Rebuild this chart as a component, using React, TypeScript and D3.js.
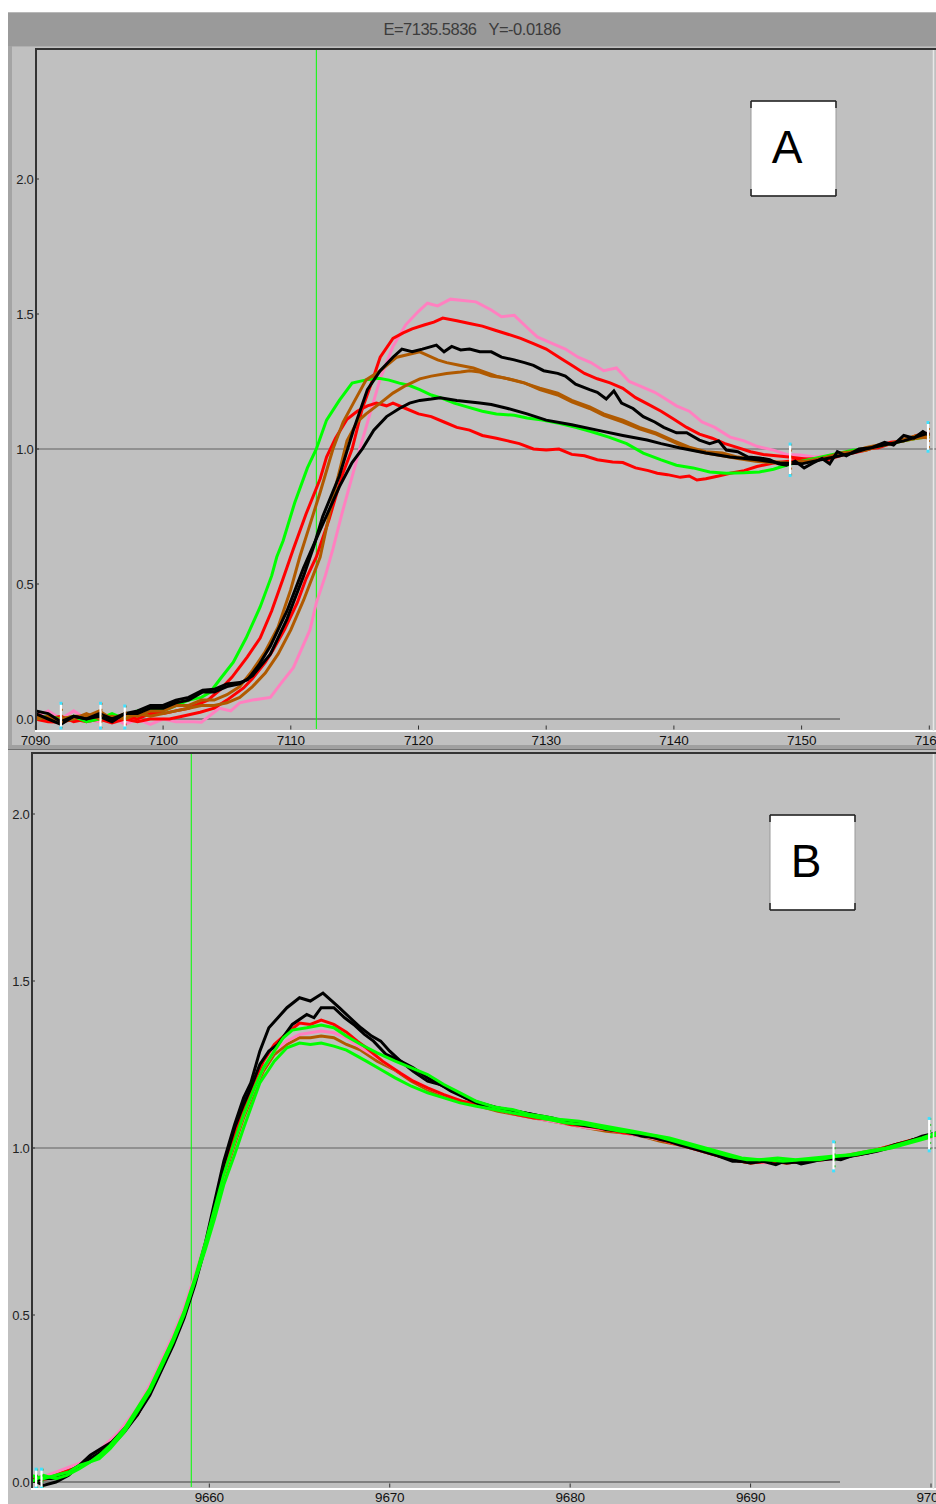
import React from 'react';
import * as d3 from 'd3';

// ---- panel A (Fe-ish edge, eV) ----
const ticksXA = [7090, 7100, 7110, 7120, 7130, 7140, 7150, 7160];
const ticksY = [0, 0.5, 1, 1.5, 2];
const tickLabelsY = ['0.0', '0.5', '1.0', '1.5', '2.0'];
const cursorA = 7112.0;
const titleText = 'E=7135.5836   Y=-0.0186';

const pinkA: [number, number][] = [
  [7090, 0.01], [7091, 0.03], [7092, 0.0], [7093, 0.03], [7094, 0.0], [7095, -0.01], [7096, 0.01], [7097, -0.02],
  [7098, 0.0], [7099, -0.02], [7100, 0.0], [7101, -0.01], [7102.4, -0.01], [7103, -0.012], [7104.4, 0.04], [7105.3, 0.03],
  [7106, 0.06], [7107, 0.07], [7108.4, 0.08], [7109.2, 0.13], [7110.2, 0.19], [7111.5, 0.33], [7112, 0.43], [7112.7, 0.53],
  [7113.3, 0.63], [7114, 0.76], [7114.7, 0.88], [7115.4, 1.0], [7116.2, 1.13], [7117, 1.26], [7118, 1.38], [7119, 1.46],
  [7120, 1.51], [7120.7, 1.54], [7121.5, 1.53], [7122.5, 1.555], [7123.5, 1.55], [7124.5, 1.545], [7125.7, 1.515],
  [7126.5, 1.49], [7127.5, 1.495], [7128.5, 1.45], [7129.3, 1.415], [7130.5, 1.39], [7131.5, 1.37], [7132.5, 1.34],
  [7133.5, 1.32], [7134.5, 1.29], [7135.5, 1.3], [7136.5, 1.25], [7137.5, 1.23], [7138.5, 1.21], [7139.2, 1.19],
  [7140.2, 1.16], [7141.2, 1.14], [7142.2, 1.1], [7143.2, 1.08], [7144.4, 1.044], [7145.5, 1.03], [7146.5, 1.01],
  [7147.8, 0.996], [7148.8, 0.98], [7149.9, 0.978], [7151, 0.97], [7152, 0.975], [7153, 0.98], [7154, 0.99],
  [7155, 1.0], [7156, 1.01], [7157, 1.02], [7158, 1.035], [7159, 1.045], [7160, 1.055],
];

const redHighA: [number, number][] = [
  [7090, 0.0], [7091, -0.01], [7092, -0.012], [7093, 0.0], [7094, -0.01], [7095, 0.0], [7096, -0.015], [7097, 0.0],
  [7098, -0.01], [7099, 0.0], [7100.5, 0.0], [7101.5, 0.01], [7102.9, 0.025], [7104, 0.04], [7105, 0.07], [7106.3, 0.115],
  [7107, 0.15], [7108, 0.21], [7108.6, 0.255], [7109.5, 0.33], [7110.5, 0.43], [7111.2, 0.52], [7112, 0.6], [7113, 0.74],
  [7114, 0.9], [7114.8, 1.0], [7115.6, 1.15], [7116.4, 1.256], [7117, 1.34], [7118, 1.41], [7118.8, 1.43], [7119.5, 1.445],
  [7120.5, 1.46], [7121.2, 1.47], [7121.9, 1.485], [7123, 1.475], [7124, 1.465], [7125, 1.455], [7126, 1.44],
  [7127, 1.425], [7128, 1.41], [7129, 1.39], [7130, 1.37], [7131, 1.34], [7132, 1.31], [7133, 1.28], [7134, 1.26],
  [7135, 1.245], [7136, 1.225], [7137, 1.19], [7138, 1.165], [7139, 1.14], [7140, 1.11], [7141, 1.08], [7142, 1.055],
  [7143, 1.04], [7144, 1.02], [7145, 1.005], [7146, 0.99], [7147, 0.98], [7148, 0.975], [7149, 0.97], [7150, 0.965],
  [7151, 0.96], [7152, 0.97], [7153, 0.98], [7154, 0.985], [7155, 0.995], [7156, 1.01], [7157, 1.025], [7158, 1.03],
  [7159, 1.05], [7160, 1.06],
];

const redLowA: [number, number][] = [
  [7090, 0.02], [7091, 0.0], [7092, 0.01], [7093, -0.01], [7094, 0.0], [7095, 0.01], [7096, 0.0], [7097, 0.01],
  [7098, 0.0], [7099, 0.02], [7100, 0.02], [7101, 0.03], [7102, 0.04], [7103.5, 0.07], [7104.5, 0.11], [7105.4, 0.155],
  [7106.6, 0.23], [7107.6, 0.3], [7108.5, 0.4], [7109.4, 0.52], [7110.2, 0.63], [7111.2, 0.76], [7112.3, 0.89],
  [7112.8, 0.97], [7113.5, 1.04], [7114.4, 1.11], [7115.2, 1.14], [7116, 1.16], [7116.7, 1.17], [7117.5, 1.16],
  [7118, 1.17], [7119, 1.15], [7120, 1.13], [7121, 1.12], [7122, 1.1], [7123, 1.08], [7124, 1.07], [7125, 1.05],
  [7126.1, 1.04], [7127, 1.03], [7127.9, 1.02], [7129, 1.0], [7130, 0.996], [7131, 1.0], [7132, 0.98], [7133, 0.975],
  [7134, 0.96], [7135.2, 0.952], [7136, 0.95], [7137, 0.93], [7138, 0.92], [7138.7, 0.91], [7139.5, 0.905],
  [7140.5, 0.895], [7141.2, 0.9], [7141.8, 0.885], [7142.5, 0.89], [7143.5, 0.9], [7144.4, 0.91], [7145.5, 0.92],
  [7146.5, 0.935], [7147.8, 0.948], [7149, 0.955], [7150, 0.96], [7151, 0.965], [7152, 0.96], [7153, 0.975],
  [7154, 0.99], [7155, 1.0], [7156, 1.005], [7157, 1.02], [7158, 1.035], [7159, 1.04], [7160, 1.055],
];

const blackHighA: [number, number][] = [
  [7090, 0.02], [7091, 0.0], [7092, -0.02], [7093, 0.01], [7094, 0.0], [7095, 0.01], [7096, -0.01], [7097, 0.02],
  [7098, 0.02], [7099, 0.04], [7100, 0.04], [7101, 0.06], [7102, 0.07], [7103.1, 0.1], [7104, 0.1], [7105, 0.12],
  [7106, 0.13], [7107, 0.16], [7108.4, 0.24], [7109.7, 0.37], [7111, 0.53], [7111.8, 0.64], [7112.5, 0.75],
  [7113.8, 0.9], [7114.9, 1.07], [7116, 1.22], [7117, 1.29], [7118, 1.34], [7118.7, 1.37], [7119.5, 1.36],
  [7120.3, 1.37], [7121.4, 1.385], [7122, 1.36], [7122.6, 1.38], [7123.3, 1.367], [7124, 1.37], [7124.8, 1.36],
  [7125.7, 1.36], [7126.5, 1.34], [7127.5, 1.33], [7128.3, 1.32], [7129, 1.31], [7129.8, 1.29], [7130.9, 1.28],
  [7131.5, 1.27], [7132.3, 1.24], [7133.4, 1.22], [7134, 1.21], [7134.7, 1.185], [7135.3, 1.215], [7135.9, 1.17],
  [7136.8, 1.15], [7137.6, 1.12], [7138.5, 1.1], [7139.2, 1.08], [7140.2, 1.06], [7141, 1.06], [7142, 1.033],
  [7142.8, 1.02], [7143.5, 1.03], [7144.1, 0.996], [7145, 0.99], [7145.8, 0.97], [7146.7, 0.967], [7147.5, 0.96],
  [7148.2, 0.945], [7148.8, 0.94], [7149.5, 0.955], [7150.2, 0.93], [7150.9, 0.948], [7151.6, 0.965], [7152.2, 0.945],
  [7152.8, 0.99], [7153.5, 0.975], [7154.5, 1.0], [7155.5, 1.005], [7156.5, 1.025], [7157.2, 1.015], [7158, 1.05],
  [7158.8, 1.04], [7159.5, 1.065], [7160, 1.05],
];

const blackLowA: [number, number][] = [
  [7090, 0.03], [7091, 0.02], [7092, -0.01], [7093, 0.01], [7094, 0.0], [7095, 0.02], [7096, 0.0], [7097, 0.02],
  [7098, 0.03], [7099, 0.05], [7100, 0.05], [7101, 0.07], [7102, 0.08], [7103.1, 0.107], [7104, 0.11], [7105, 0.13],
  [7106, 0.135], [7106.6, 0.145], [7107.5, 0.2], [7108.4, 0.27], [7109.7, 0.4], [7111, 0.56], [7112.3, 0.7],
  [7113.8, 0.86], [7114.8, 0.95], [7115.6, 1.0], [7116.5, 1.07], [7117.5, 1.12], [7118.5, 1.15], [7119.3, 1.17],
  [7120.1, 1.18], [7121, 1.185], [7121.7, 1.19], [7123, 1.18], [7124.8, 1.17], [7125.7, 1.165], [7127, 1.15],
  [7128.5, 1.13], [7130, 1.107], [7132, 1.09], [7134, 1.07], [7136, 1.05], [7137.9, 1.033], [7139, 1.02],
  [7140.5, 1.004], [7142.5, 0.985], [7144.4, 0.97], [7146.5, 0.96], [7148.3, 0.948], [7150, 0.945], [7151, 0.955],
  [7152, 0.965], [7153, 0.975], [7154, 0.985], [7155, 1.0], [7156, 1.01], [7157, 1.02], [7158, 1.03], [7159, 1.045],
  [7160, 1.06],
];

const brownHighA: [number, number][] = [
  [7090, 0.01], [7091, 0.0], [7092, 0.0], [7093, 0.01], [7094, 0.01], [7095, 0.03], [7096, 0.0], [7097, 0.02],
  [7098, 0.01], [7099, 0.03], [7100, 0.03], [7101, 0.05], [7102, 0.05], [7103, 0.07], [7104, 0.07], [7105, 0.09],
  [7106, 0.12], [7107, 0.18], [7108, 0.25], [7109, 0.34], [7110, 0.48], [7110.7, 0.6], [7111.5, 0.72], [7112.3, 0.84],
  [7113.3, 1.0], [7114.1, 1.1], [7114.9, 1.17], [7115.9, 1.256], [7117, 1.29], [7118.3, 1.34], [7119.2, 1.35],
  [7120.1, 1.36], [7120.8, 1.345], [7121.5, 1.33], [7122.2, 1.32], [7123.2, 1.31], [7124.3, 1.3], [7125.2, 1.285],
  [7126.1, 1.27], [7127, 1.26], [7128.3, 1.244], [7129.5, 1.225], [7130.9, 1.207], [7132, 1.18], [7133.4, 1.156],
  [7134.5, 1.13], [7136, 1.107], [7137.3, 1.08], [7138.6, 1.06], [7140, 1.03], [7141.2, 1.007], [7142.5, 0.99],
  [7143.8, 0.985], [7145, 0.97], [7146.4, 0.96], [7147.5, 0.955], [7149, 0.948], [7150, 0.95], [7151, 0.96],
  [7152, 0.97], [7153, 0.98], [7154, 0.99], [7155, 0.995], [7156, 1.01], [7157, 1.02], [7158, 1.03], [7159, 1.04],
  [7160, 1.045],
];

const brownLowA: [number, number][] = [
  [7090, 0.0], [7091, 0.01], [7092, -0.01], [7093, 0.0], [7094, 0.02], [7095, 0.0], [7096, 0.01], [7097, 0.0],
  [7098, 0.02], [7099, 0.01], [7100, 0.02], [7101, 0.03], [7102, 0.04], [7103, 0.05], [7104, 0.05], [7105, 0.06],
  [7106, 0.08], [7107, 0.12], [7108, 0.17], [7109, 0.24], [7110, 0.33], [7111, 0.44], [7112.3, 0.6], [7113.3, 0.82],
  [7114.4, 1.03], [7115.2, 1.1], [7115.9, 1.13], [7117, 1.17], [7118, 1.207], [7119, 1.235], [7120.1, 1.26],
  [7121, 1.27], [7122.2, 1.28], [7123.3, 1.285], [7124, 1.29], [7124.8, 1.285], [7125.7, 1.27], [7126.5, 1.265],
  [7127.5, 1.255], [7128.3, 1.245], [7129.5, 1.22], [7130.9, 1.2], [7132, 1.175], [7133.4, 1.15], [7134.5, 1.125],
  [7136, 1.1], [7137.3, 1.075], [7138.6, 1.055], [7140, 1.025], [7141.2, 1.0], [7142.5, 0.985], [7143.8, 0.975],
  [7145, 0.965], [7146.4, 0.955], [7147.5, 0.95], [7149, 0.945], [7150, 0.955], [7151, 0.955], [7152, 0.97],
  [7153, 0.985], [7154, 0.99], [7155, 1.005], [7156, 1.015], [7157, 1.02], [7158, 1.035], [7159, 1.05], [7160, 1.04],
];

const greenA: [number, number][] = [
  [7090, 0.0], [7091, 0.01], [7092, 0.0], [7093, 0.01], [7094, -0.01], [7095, 0.0], [7096, 0.02], [7097, 0.0],
  [7098, 0.03], [7099, 0.04], [7100, 0.03], [7101, 0.05], [7102, 0.07], [7103, 0.08], [7103.7, 0.1], [7104.5, 0.15],
  [7105.5, 0.21], [7106.5, 0.3], [7107.6, 0.415], [7108.5, 0.53], [7108.9, 0.6], [7109.4, 0.66], [7110.3, 0.8],
  [7111.3, 0.93], [7112, 1.0], [7112.8, 1.107], [7113.8, 1.18], [7114.8, 1.244], [7115.9, 1.256], [7116.9, 1.262],
  [7117.7, 1.255], [7118.5, 1.244], [7119.3, 1.235], [7120.1, 1.22], [7121, 1.2], [7121.7, 1.19], [7122.8, 1.17],
  [7123.8, 1.156], [7125, 1.14], [7126.1, 1.13], [7127.5, 1.125], [7128.5, 1.115], [7129.7, 1.107], [7131, 1.095],
  [7132.3, 1.08], [7133.5, 1.065], [7134.9, 1.044], [7136.3, 1.02], [7137.6, 0.985], [7139, 0.96], [7140.2, 0.94],
  [7141.5, 0.93], [7142.8, 0.915], [7144.1, 0.91], [7145.5, 0.912], [7146.7, 0.915], [7147.8, 0.925], [7148.8, 0.94],
  [7150, 0.955], [7151, 0.965], [7152, 0.975], [7153, 0.985], [7154, 0.995], [7155, 1.0], [7156, 1.01], [7157, 1.02],
  [7158, 1.03], [7159, 1.04], [7160, 1.045],
];

// normalisation markers [E, yLow, yHigh]
const markersA: [number, number, number][] = [
  [7092.0, -0.035, 0.06], [7095.1, -0.035, 0.06], [7097.0, -0.035, 0.05], [7149.1, 0.9, 1.02], [7159.9, 0.99, 1.1],
];

// ---- panel B ----
const ticksXB = [9660, 9670, 9680, 9690, 9700];
const cursorB = 9659.0;

const blackHighB: [number, number][] = [
  [9650.1, 0.01], [9650.8, -0.01], [9651.5, 0.0], [9652.2, 0.02], [9652.8, 0.05], [9653.4, 0.08], [9654, 0.1],
  [9654.6, 0.12], [9655.3, 0.16], [9656, 0.2], [9656.7, 0.27], [9657.4, 0.35], [9658, 0.42], [9658.6, 0.5],
  [9659.2, 0.6], [9659.8, 0.72], [9660.3, 0.84], [9660.8, 0.96], [9661.4, 1.07], [9661.9, 1.15], [9662.3, 1.195],
  [9662.8, 1.29], [9663.3, 1.36], [9663.8, 1.39], [9664.3, 1.42], [9665, 1.45], [9665.6, 1.44], [9666.3, 1.464],
  [9666.8, 1.44], [9667.2, 1.42], [9667.8, 1.39], [9668.4, 1.36], [9669, 1.335], [9669.5, 1.32], [9670, 1.29],
  [9670.6, 1.26], [9671.3, 1.24], [9672.1, 1.21], [9672.8, 1.19], [9673.4, 1.175], [9674.2, 1.15], [9675, 1.13],
  [9676, 1.12], [9677, 1.11], [9678, 1.1], [9679, 1.09], [9680, 1.075], [9681, 1.065], [9682, 1.06], [9683, 1.05],
  [9684, 1.04], [9685, 1.025], [9686, 1.015], [9687, 1.0], [9688, 0.98], [9689, 0.965], [9690, 0.955], [9690.7, 0.96],
  [9691.4, 0.95], [9692.1, 0.965], [9692.8, 0.952], [9693.5, 0.96], [9694.2, 0.97], [9695, 0.965], [9695.8, 0.98],
  [9696.5, 0.985], [9697.2, 0.995], [9698, 1.01], [9698.8, 1.02], [9699.5, 1.035], [9700.3, 1.045],
];

const blackLowB: [number, number][] = [
  [9650.1, 0.0], [9650.8, 0.01], [9651.5, 0.01], [9652.2, 0.03], [9652.8, 0.05], [9653.4, 0.07], [9654, 0.09],
  [9654.6, 0.11], [9655.3, 0.15], [9656, 0.2], [9656.7, 0.26], [9657.4, 0.34], [9658, 0.41], [9658.6, 0.49],
  [9659.2, 0.59], [9659.8, 0.71], [9660.3, 0.83], [9660.8, 0.95], [9661.4, 1.06], [9661.9, 1.13], [9662.3, 1.18],
  [9662.8, 1.25], [9663.3, 1.29], [9663.8, 1.31], [9664.6, 1.37], [9665.4, 1.4], [9665.8, 1.39], [9666.2, 1.42],
  [9666.9, 1.42], [9667.5, 1.39], [9668, 1.37], [9668.6, 1.34], [9669.1, 1.32], [9669.8, 1.28], [9670.6, 1.26],
  [9671.3, 1.23], [9672.1, 1.2], [9672.8, 1.19], [9673.4, 1.17], [9674.2, 1.15], [9675, 1.135], [9676, 1.12],
  [9677, 1.11], [9678, 1.1], [9679, 1.085], [9680, 1.075], [9681, 1.07], [9682, 1.055], [9683, 1.05], [9684, 1.035],
  [9685, 1.03], [9686, 1.01], [9687, 0.995], [9688, 0.98], [9689, 0.96], [9690, 0.96], [9691, 0.965], [9692, 0.955],
  [9693, 0.96], [9694, 0.965], [9695, 0.97], [9696, 0.98], [9697, 0.99], [9698, 1.005], [9699, 1.025], [9700.3, 1.04],
];

const redB: [number, number][] = [
  [9650.1, 0.01], [9651, 0.01], [9652, 0.03], [9653, 0.05], [9654, 0.09], [9655, 0.14], [9656, 0.2], [9656.7, 0.27],
  [9657.4, 0.35], [9658, 0.42], [9658.6, 0.5], [9659.2, 0.6], [9659.8, 0.71], [9660.3, 0.82], [9660.8, 0.93],
  [9661.4, 1.04], [9661.9, 1.12], [9662.5, 1.2], [9663, 1.26], [9663.6, 1.31], [9664.3, 1.344], [9665, 1.374],
  [9665.6, 1.37], [9666.2, 1.383], [9666.9, 1.37], [9667.6, 1.347], [9668.2, 1.32], [9668.7, 1.3], [9669.6, 1.26],
  [9670.6, 1.224], [9671.3, 1.2], [9672.1, 1.18], [9673, 1.16], [9674, 1.14], [9675, 1.13], [9676, 1.115],
  [9677, 1.1], [9678, 1.09], [9679, 1.085], [9680, 1.07], [9681, 1.065], [9682, 1.055], [9683, 1.045], [9684, 1.04],
  [9685, 1.025], [9686, 1.01], [9687, 0.995], [9688, 0.98], [9689, 0.965], [9690, 0.955], [9691, 0.96], [9692, 0.955],
  [9693, 0.96], [9694, 0.965], [9695, 0.975], [9696, 0.98], [9697, 0.995], [9698, 1.01], [9699, 1.025], [9700.3, 1.04],
];

const pinkB: [number, number][] = [
  [9650.1, 0.01], [9651, 0.02], [9652, 0.04], [9653, 0.06], [9654, 0.1], [9655, 0.15], [9656, 0.22], [9656.7, 0.29],
  [9657.4, 0.37], [9658, 0.44], [9658.6, 0.52], [9659.2, 0.62], [9659.8, 0.72], [9660.3, 0.82], [9660.8, 0.92],
  [9661.4, 1.02], [9661.9, 1.1], [9662.5, 1.18], [9663, 1.24], [9663.6, 1.29], [9664.3, 1.32], [9665, 1.34],
  [9665.6, 1.345], [9666.2, 1.35], [9666.9, 1.345], [9667.6, 1.33], [9668.4, 1.3], [9669.3, 1.27], [9670.3, 1.235],
  [9671.2, 1.205], [9672.1, 1.18], [9673, 1.16], [9674, 1.14], [9675, 1.125], [9676, 1.115], [9677, 1.1],
  [9678, 1.09], [9679, 1.08], [9680, 1.07], [9681, 1.06], [9682, 1.055], [9683, 1.045], [9684, 1.035], [9685, 1.025],
  [9686, 1.01], [9687, 0.995], [9688, 0.98], [9689, 0.965], [9690, 0.96], [9691, 0.955], [9692, 0.96], [9693, 0.96],
  [9694, 0.965], [9695, 0.97], [9696, 0.98], [9697, 0.99], [9698, 1.005], [9699, 1.02], [9700.3, 1.035],
];

const brownB: [number, number][] = [
  [9650.1, 0.0], [9651, 0.01], [9652, 0.03], [9653, 0.05], [9654, 0.09], [9655, 0.14], [9656, 0.21], [9656.7, 0.28],
  [9657.4, 0.36], [9658, 0.43], [9658.6, 0.51], [9659.2, 0.61], [9659.8, 0.71], [9660.3, 0.81], [9660.8, 0.91],
  [9661.4, 1.01], [9661.9, 1.09], [9662.5, 1.17], [9663, 1.23], [9663.6, 1.28], [9664.3, 1.31], [9665, 1.33],
  [9665.6, 1.33], [9666.2, 1.335], [9666.9, 1.33], [9667.6, 1.31], [9668.4, 1.293], [9669.3, 1.26], [9670.3, 1.233],
  [9671.2, 1.2], [9672.1, 1.174], [9673, 1.155], [9674, 1.14], [9675, 1.125], [9676, 1.11], [9677, 1.1],
  [9678, 1.09], [9679, 1.08], [9680, 1.07], [9681, 1.06], [9682, 1.05], [9683, 1.045], [9684, 1.035], [9685, 1.02],
  [9686, 1.01], [9687, 0.995], [9688, 0.98], [9689, 0.965], [9690, 0.955], [9691, 0.96], [9692, 0.955], [9693, 0.96],
  [9694, 0.97], [9695, 0.975], [9696, 0.985], [9697, 0.995], [9698, 1.01], [9699, 1.025], [9700.3, 1.04],
];

const greenHighB: [number, number][] = [
  [9650.1, 0.02], [9650.8, 0.01], [9651.5, 0.02], [9652.2, 0.03], [9652.8, 0.05], [9653.4, 0.06], [9653.9, 0.08],
  [9654.5, 0.11], [9655.3, 0.16], [9656, 0.22], [9656.7, 0.28], [9657.4, 0.36], [9658, 0.43], [9658.6, 0.51],
  [9659.2, 0.61], [9659.8, 0.72], [9660.3, 0.82], [9660.8, 0.92], [9661.4, 1.02], [9661.9, 1.1], [9662.5, 1.18],
  [9663, 1.24], [9663.6, 1.29], [9664.1, 1.33], [9664.6, 1.353], [9665.4, 1.36], [9666.2, 1.368], [9666.9, 1.36],
  [9667.6, 1.335], [9668.4, 1.31], [9669.3, 1.285], [9670.3, 1.26], [9671.2, 1.24], [9672.1, 1.22], [9673, 1.19],
  [9673.9, 1.165], [9674.8, 1.14], [9675.8, 1.123], [9676.8, 1.115], [9677.8, 1.1], [9678.5, 1.095], [9679.5, 1.085],
  [9680.5, 1.08], [9681.5, 1.07], [9682.5, 1.06], [9683.5, 1.05], [9684.5, 1.04], [9685.5, 1.03], [9686.5, 1.015],
  [9687.5, 1.0], [9688.5, 0.985], [9689.5, 0.97], [9690.5, 0.965], [9691.5, 0.97], [9692.5, 0.965], [9693.5, 0.97],
  [9694.5, 0.975], [9695.5, 0.98], [9696.5, 0.99], [9697.5, 1.0], [9698.5, 1.015], [9699.5, 1.03], [9700.3, 1.045],
];

const greenLowB: [number, number][] = [
  [9650.1, 0.0], [9650.8, 0.02], [9651.5, 0.01], [9652.1, 0.02], [9652.8, 0.04], [9653.4, 0.06], [9653.9, 0.07],
  [9654.5, 0.1], [9655.3, 0.15], [9656, 0.21], [9656.7, 0.27], [9657.4, 0.35], [9658, 0.42], [9658.6, 0.5],
  [9659.2, 0.6], [9659.8, 0.7], [9660.3, 0.79], [9660.8, 0.89], [9661.4, 0.98], [9661.9, 1.06], [9662.3, 1.12],
  [9662.8, 1.195], [9663.3, 1.235], [9663.6, 1.26], [9664.3, 1.3], [9665, 1.314], [9665.6, 1.31], [9666.2, 1.314],
  [9666.9, 1.305], [9667.6, 1.293], [9668.2, 1.275], [9668.7, 1.26], [9669.5, 1.235], [9670.3, 1.21], [9671.2, 1.185],
  [9672.1, 1.165], [9673, 1.15], [9673.9, 1.135], [9674.8, 1.125], [9675.8, 1.115], [9676.8, 1.105], [9677.8, 1.095],
  [9678.8, 1.085], [9679.8, 1.075], [9680.8, 1.07], [9681.8, 1.06], [9682.8, 1.05], [9683.8, 1.045], [9684.8, 1.035],
  [9685.8, 1.02], [9686.8, 1.005], [9687.8, 0.99], [9688.8, 0.975], [9689.8, 0.965], [9690.8, 0.965], [9691.8, 0.96],
  [9692.8, 0.965], [9693.8, 0.965], [9694.8, 0.975], [9695.8, 0.98], [9696.8, 0.99], [9697.8, 1.0], [9698.8, 1.015],
  [9699.8, 1.03], [9700.3, 1.04],
];

const markersB: [number, number, number][] = [
  [9650.4, -0.02, 0.04], [9650.7, -0.02, 0.04], [9694.6, 0.93, 1.02], [9699.9, 0.99, 1.09],
];

const PINK = '#ff80c0';
const RED = '#ff0000';
const BLACK = '#000000';
const BROWN = '#b05a00';
const GREEN = '#00ff00';

const seriesA = [
  { data: pinkA, color: PINK },
  { data: redHighA, color: RED },
  { data: redLowA, color: RED },
  { data: greenA, color: GREEN },
  { data: brownLowA, color: BROWN },
  { data: brownHighA, color: BROWN },
  { data: blackLowA, color: BLACK },
  { data: blackHighA, color: BLACK },
];

const seriesB = [
  { data: brownB, color: BROWN },
  { data: pinkB, color: PINK },
  { data: redB, color: RED },
  { data: blackLowB, color: BLACK },
  { data: blackHighB, color: BLACK },
  { data: greenLowB, color: GREEN },
  { data: greenHighB, color: GREEN },
];

const FONT = '"Liberation Sans", Arial, sans-serif';

type PanelProps = {
  id: string;
  series: { data: [number, number][]; color: string }[];
  xTicks: number[];
  xDomain: [number, number];
  xRange: [number, number];
  yRange: [number, number];
  left: number;
  top: number;
  bottom: number;
  xLabelBaseline: number;
  cursor: number;
  markers: [number, number, number][];
  markerCap: string;
  markerCapTop: string;
  label: string;
  box: { x: number; y: number };
  labelBaseline: number;
};

function Panel(p: PanelProps) {
  const x = d3.scaleLinear().domain(p.xDomain).range(p.xRange);
  const y = d3.scaleLinear().domain([0, 2]).range(p.yRange);
  const line = d3.line<[number, number]>().x(d => x(d[0])).y(d => y(d[1]));
  const right = 936;
  const clipId = `clip-${p.id}`;
  return (
    <g>
      <defs>
        <clipPath id={clipId}>
          <rect x={p.left + 1} y={p.top + 1} width={right - p.left} height={p.bottom - p.top - 1} />
        </clipPath>
      </defs>
      {/* gridlines */}
      <line x1={p.left} x2={right} y1={y(1)} y2={y(1)} stroke="#808080" strokeWidth={1.5} />
      <line x1={p.left} x2={840} y1={y(0)} y2={y(0)} stroke="#808080" strokeWidth={2} />
      {/* x ticks */}
      {p.xTicks.map(t => (
        <g key={t}>
          <line x1={x(t)} x2={x(t)} y1={p.bottom - 5.5} y2={p.bottom - 1.5} stroke="#333" strokeWidth={1} />
          <text x={x(t)} y={p.xLabelBaseline} fontSize={13.5} fontFamily={FONT} fill="#111" textAnchor="middle" letterSpacing={-0.2}>
            {t}
          </text>
        </g>
      ))}
      {/* y ticks */}
      {ticksY.map((t, i) => (
        <g key={t}>
          <line x1={p.left} x2={p.left + 4} y1={y(t)} y2={y(t)} stroke="#333" strokeWidth={1} />
          <text x={p.left - 1.5} y={y(t) + 4.5} fontSize={13} fontFamily={FONT} fill="#222" textAnchor="end" letterSpacing={-0.3}>
            {tickLabelsY[i]}
          </text>
        </g>
      ))}
      {/* cursor */}
      <line x1={x(p.cursor)} x2={x(p.cursor)} y1={p.top} y2={p.bottom - 2} stroke="#00ff00" strokeWidth={1} />
      <g clipPath={`url(#${clipId})`}>
        {p.series.map((s, i) => (
          <path key={i} d={line(s.data) || ''} fill="none" stroke={s.color} strokeWidth={3} strokeLinejoin="miter" />
        ))}
        {p.markers.map((m, i) => (
          <g key={i}>
            <line x1={x(m[0])} x2={x(m[0])} y1={y(m[2])} y2={y(m[1])} stroke="#ffffff" strokeWidth={2.2} />
            <line x1={x(m[0]) + 1.5} x2={x(m[0]) + 1.5} y1={y(m[2])} y2={y(m[1])} stroke={p.markerCap} strokeWidth={0.8} strokeDasharray="2 4" />
            <rect x={x(m[0]) - 1.5} y={y(m[2]) - 1} width={3} height={3} fill={p.markerCapTop} />
            <rect x={x(m[0]) - 1.5} y={y(m[1]) - 2} width={3} height={3} fill={p.markerCapTop} />
          </g>
        ))}
      </g>
      {/* frame */}
      <line x1={p.left} x2={right} y1={p.top + 1} y2={p.top + 1} stroke="#333" strokeWidth={2} />
      <line x1={p.left + 1} x2={p.left + 1} y1={p.top} y2={p.bottom} stroke="#333" strokeWidth={2} />
      <line x1={p.left} x2={right} y1={p.bottom} y2={p.bottom} stroke="#ffffff" strokeWidth={2} />
      <line x1={933.5} x2={933.5} y1={p.top + 2} y2={p.bottom} stroke="#e8e8e8" strokeWidth={1.5} />
      {/* label box */}
      <rect x={p.box.x} y={p.box.y} width={85} height={95} fill="#ffffff" stroke="#999" strokeWidth={1} />
      <line x1={p.box.x} x2={p.box.x + 85} y1={p.box.y} y2={p.box.y} stroke="#222" strokeWidth={1.5} />
      <line x1={p.box.x} x2={p.box.x + 85} y1={p.box.y + 95} y2={p.box.y + 95} stroke="#222" strokeWidth={1.5} />
      {[p.box.x, p.box.x + 85].map(bx => (
        <g key={bx}>
          <line x1={bx} x2={bx} y1={p.box.y} y2={p.box.y + 7} stroke="#222" strokeWidth={1.5} />
          <line x1={bx} x2={bx} y1={p.box.y + 88} y2={p.box.y + 95} stroke="#222" strokeWidth={1.5} />
        </g>
      ))}
      <text x={p.box.x + 36} y={p.labelBaseline} fontSize={46} fontFamily={FONT} fill="#000" textAnchor="middle">
        {p.label}
      </text>
    </g>
  );
}

export default function App() {
  return (
    <svg width={936} height={1504} style={{ position: 'absolute', left: 0, top: 0, display: 'block' }}>
      <rect x={0} y={0} width={936} height={1504} fill="#ffffff" />
      {/* panel A window */}
      <rect x={8} y={12} width={928} height={738} fill="#c0c0c0" />
      <rect x={8} y={12} width={928} height={34} fill="#9a9a9a" />
      <line x1={8} x2={936} y1={12.5} y2={12.5} stroke="#b8b8b8" strokeWidth={1} />
      <line x1={8} x2={936} y1={46.5} y2={46.5} stroke="#b0b0b0" strokeWidth={1} />
      <rect x={8} y={46} width={4} height={700} fill="#a4a4a4" />
      <text x={472} y={35} fontSize={16.5} fontFamily={FONT} fill="#3c3c3c" textAnchor="middle" letterSpacing={-0.5} style={{ whiteSpace: 'pre' }}>
        {titleText}
      </text>
      <rect x={8} y={745} width={928} height={5} fill="#a0a0a0" />
      <line x1={8} x2={936} y1={749.5} y2={749.5} stroke="#707070" strokeWidth={1} />
      {/* panel B window */}
      <rect x={8} y={750} width={928} height={754} fill="#c0c0c0" />
      <Panel
        id="a"
        series={seriesA}
        xTicks={ticksXA}
        xDomain={[7090, 7160]}
        xRange={[35.4, 929.3]}
        yRange={[719, 179]}
        left={35}
        top={48}
        bottom={731}
        xLabelBaseline={745}
        cursor={cursorA}
        markers={markersA}
        markerCap="#b05a00"
        markerCapTop="#40e0ff"
        label="A"
        box={{ x: 751, y: 101 }}
        labelBaseline={163}
      />
      <Panel
        id="b"
        series={seriesB}
        xTicks={ticksXB}
        xDomain={[9650, 9700]}
        xRange={[28.9, 931]}
        yRange={[1482, 814]}
        left={31}
        top={752}
        bottom={1489}
        xLabelBaseline={1502}
        cursor={cursorB}
        markers={markersB}
        markerCap="#00c000"
        markerCapTop="#40e0ff"
        label="B"
        box={{ x: 770, y: 815 }}
        labelBaseline={877}
      />
    </svg>
  );
}
